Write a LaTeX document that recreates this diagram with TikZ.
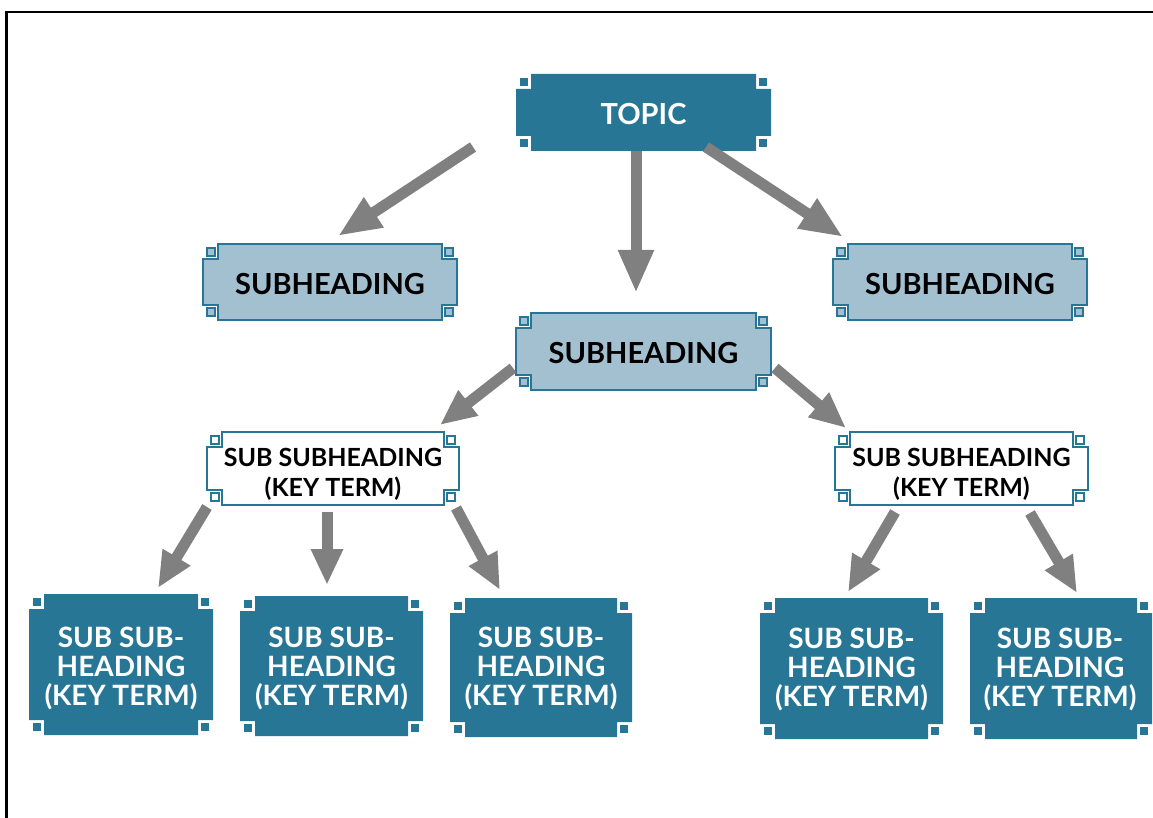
\documentclass[tikz,border=0pt]{standalone}
\usepackage{fontspec}
\setmainfont{Lato}
\usetikzlibrary{arrows.meta,calc,backgrounds}
\definecolor{kdark}{RGB}{39,118,149}
\definecolor{klight}{RGB}{163,192,209}
\definecolor{karrow}{RGB}{128,128,128}
\newcommand\keyframe[2]{%
  \path[#2] ($(#1.north west)+(15,0)$) -- ($(#1.north east)+(-15,0)$) -- ++(0,15) -- ++(15,0)
    -- ($(#1.south east)+(0,-15)$) -- ++(-15,0) -- ++(0,15) -- ($(#1.south west)+(15,0)$)
    -- ++(0,-15) -- ++(-15,0) -- ($(#1.north west)+(0,15)$) -- ++(15,0) -- cycle;
  \path[#2] ($(#1.north west)+(4,4)$) rectangle ++(8,8);
  \path[#2] ($(#1.north east)+(-12,4)$) rectangle ++(8,8);
  \path[#2] ($(#1.south west)+(4,-12)$) rectangle ++(8,8);
  \path[#2] ($(#1.south east)+(-12,-12)$) rectangle ++(8,8);
}
\tikzset{
  framenode/.style={inner sep=0pt, outer sep=0pt},
  boxlbl/.style={inner sep=0pt, align=center, font=\bfseries},
  toplbl/.style={boxlbl, text=white, font=\bfseries\fontsize{29}{32}\selectfont, yshift=-1.5pt},
  sublbl/.style={boxlbl, text=black, font=\bfseries\fontsize{29}{32}\selectfont, yshift=-2pt},
  sslbl/.style={boxlbl, text=black, font=\bfseries\fontsize{25}{30}\selectfont, yshift=-6pt},
  leaflbl/.style={boxlbl, text=white, font=\bfseries\fontsize{28}{29}\selectfont, yshift=-3pt},
  darkframe/.style={fill=kdark},
  lightframe/.style={fill=klight, draw=kdark, line width=2.2pt},
  whiteframe/.style={fill=white, draw=kdark, line width=2.2pt},
  bigarrow/.style={draw=karrow, line width=11pt, -{Triangle[width=33pt,length=43pt]}},
  smallarrow/.style={draw=karrow, line width=11pt, -{Triangle[width=30pt,length=36pt]}},
  frameline/.style={draw=black, line width=2.5pt},
}
\begin{document}
\begin{tikzpicture}[x=1pt,y=-1pt]
\useasboundingbox (0,0) rectangle (1153,818);
\coordinate (fa) at (6.5,818);
\coordinate (fb) at (6.5,12);
\coordinate (fc) at (1153,12);
\draw[frameline] (fa) -- (fb) -- (fc);

% frame nodes
\node[framenode, minimum width=255pt, minimum height=77pt] (topic) at (643.5,112.5) {};
\node[framenode, minimum width=254pt, minimum height=76pt] (subL) at (330,282) {};
\node[framenode, minimum width=254pt, minimum height=76pt] (subR) at (960,282) {};
\node[framenode, minimum width=255pt, minimum height=77pt] (subM) at (643.5,351.5) {};
\node[framenode, minimum width=252pt, minimum height=73pt] (ssL) at (333,468.5) {};
\node[framenode, minimum width=253pt, minimum height=73pt] (ssR) at (961.5,468.5) {};
\node[framenode, minimum width=184pt, minimum height=141pt] (la) at (121,664.5) {};
\node[framenode, minimum width=183pt, minimum height=140pt] (lb) at (331.5,666) {};
\node[framenode, minimum width=182pt, minimum height=139pt] (lc) at (541,667.5) {};
\node[framenode, minimum width=183pt, minimum height=141pt] (ld) at (851.5,668.5) {};
\node[framenode, minimum width=182pt, minimum height=141pt] (le) at (1061,668.5) {};

\keyframe{topic}{darkframe}
\keyframe{subL}{lightframe}
\keyframe{subR}{lightframe}
\keyframe{subM}{lightframe}
\keyframe{ssL}{whiteframe}
\keyframe{ssR}{whiteframe}
\keyframe{la}{darkframe}
\keyframe{lb}{darkframe}
\keyframe{lc}{darkframe}
\keyframe{ld}{darkframe}
\keyframe{le}{darkframe}

% labels
\node[toplbl] (topicT) at (topic.center) {TOPIC};
\node[sublbl] (subLT) at (subL.center) {SUBHEADING};
\node[sublbl] (subRT) at (subR.center) {SUBHEADING};
\node[sublbl] (subMT) at (subM.center) {SUBHEADING};
\node[sslbl] (ssLT) at (ssL.center) {SUB SUBHEADING\\(KEY TERM)};
\node[sslbl] (ssRT) at (ssR.center) {SUB SUBHEADING\\(KEY TERM)};
\node[leaflbl] (laT) at (121,665.5) {SUB SUB-\\HEADING\\(KEY TERM)};
\node[leaflbl] (lbT) at (331.5,665.5) {SUB SUB-\\HEADING\\(KEY TERM)};
\node[leaflbl] (lcT) at (541,665.5) {SUB SUB-\\HEADING\\(KEY TERM)};
\node[leaflbl] (ldT) at (851.5,666.5) {SUB SUB-\\HEADING\\(KEY TERM)};
\node[leaflbl] (leT) at (1060,666.5) {SUB SUB-\\HEADING\\(KEY TERM)};

% connectors
\draw[bigarrow] ($(topic.south west)+(-43,-4)$) -- ($(subL.north)+(8,-8)$);
\draw[bigarrow] ($(topic.south)+(-7.5,0)$) -- ($(subM.north)+(-7.5,-20)$);
\draw[bigarrow] ($(topic.south)+(62.5,-4)$) -- ($(subR.north west)+(10,-7)$);
\draw[smallarrow] ($(subM.west)+(-3,16.5)$) -- ($(ssL.north east)+(-19,-7)$);
\draw[smallarrow] ($(subM.east)+(4,16.5)$) -- ($(ssR.north west)+(11,-4)$);
\draw[smallarrow] ($(ssL.south west)+(0,2)$) -- ($(la.north)+(37,-6)$);
\draw[smallarrow] ($(ssL.south)+(-6,7)$) -- ($(lb.north)+(-4.5,-11)$);
\draw[smallarrow] ($(ssL.south east)+(-3,3)$) -- ($(lc.north)+(-41,-8)$);
\draw[smallarrow] ($(ssR.south)+(-66.5,7)$) -- ($(ld.north)+(-3.5,-6)$);
\draw[smallarrow] ($(ssR.south)+(68.5,8)$) -- ($(le.north)+(16,-5)$);
\end{tikzpicture}
\end{document}
